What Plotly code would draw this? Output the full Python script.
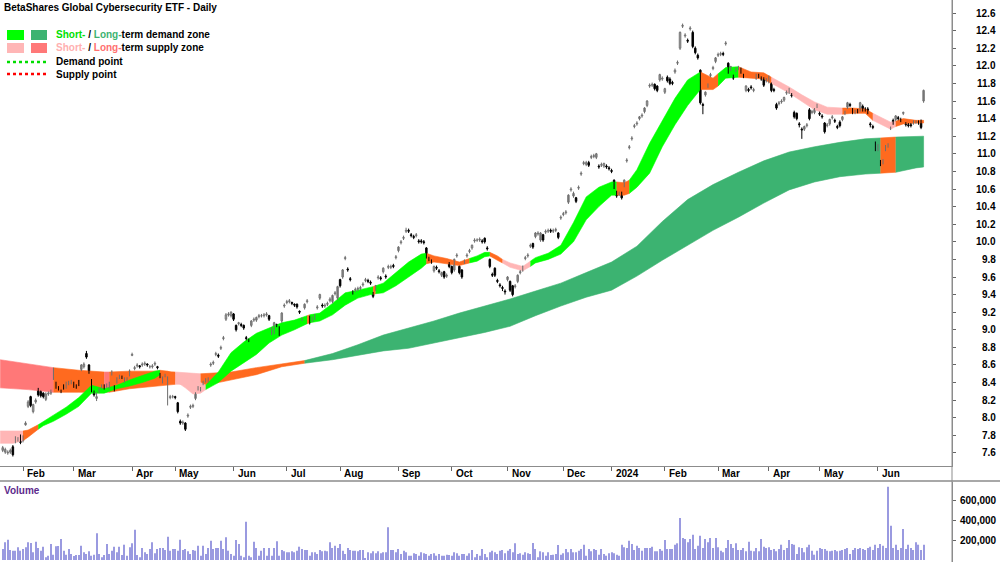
import plotly.graph_objects as go

# ---------------- data ----------------
open_ = [
7.63,7.61,7.60,7.61,7.67,7.73,7.75,7.80,7.74,7.92,
8.13,8.24,8.07,8.18,8.33,8.30,8.28,8.21,8.27,8.28,
8.45,8.40,8.34,8.31,8.37,8.35,8.39,8.40,8.40,8.36,
8.42,8.55,8.58,8.73,8.60,8.43,8.30,8.22,8.30,8.35,
8.37,8.36,8.35,8.50,8.36,8.41,8.46,8.47,8.42,8.44,
8.49,8.71,8.56,8.59,8.59,8.60,8.61,8.61,8.58,8.58,
8.61,8.58,8.50,8.41,8.48,8.40,8.23,8.24,8.24,8.17,
7.96,7.94,7.94,8.02,8.12,8.13,8.22,8.33,8.32,8.39,
8.42,8.42,8.60,8.62,8.72,8.71,8.79,8.90,9.12,9.17,
9.16,9.18,9.05,9.07,9.06,9.05,8.91,8.89,9.05,9.11,
9.11,9.15,9.16,9.16,9.17,9.16,8.96,8.97,9.06,9.03,
9.10,9.27,9.31,9.32,9.31,9.29,9.29,9.21,9.12,9.25,
9.32,9.15,9.11,9.13,9.25,9.36,9.28,9.27,9.29,9.33,
9.32,9.41,9.36,9.57,9.60,9.81,9.69,9.58,9.43,9.45,
9.46,9.47,9.51,9.56,9.56,9.54,9.42,9.46,9.59,9.59,
9.66,9.61,9.71,9.71,9.73,9.82,9.90,9.99,10.04,10.12,
10.13,10.08,10.06,10.07,10.01,10.01,10.00,9.93,9.81,9.78,
9.67,9.71,9.67,9.62,9.66,9.61,9.75,9.72,9.68,9.84,
9.72,9.68,9.77,9.84,9.89,9.93,10.01,10.02,10.02,10.01,
10.04,9.93,9.80,9.63,9.70,9.56,9.51,9.48,9.44,9.57,
9.55,9.50,9.49,9.55,9.65,9.68,9.81,9.84,9.95,9.98,
10.06,10.09,10.02,10.08,10.11,10.12,10.13,10.12,10.13,10.10,
10.27,10.31,10.33,10.45,10.59,10.52,10.50,10.61,10.77,10.89,
10.88,10.90,10.96,10.97,10.96,10.86,10.87,10.86,10.86,10.84,
10.81,10.70,10.57,10.54,10.55,10.64,10.92,11.07,11.17,11.31,
11.34,11.40,11.43,11.48,11.55,11.77,11.78,11.79,11.77,11.84,
11.85,11.70,11.87,11.85,11.81,11.93,12.03,12.20,12.45,12.34,
12.29,12.42,12.38,12.20,12.12,11.95,11.56,11.67,11.77,11.89,
11.97,12.05,12.12,12.13,12.14,12.25,12.03,11.96,11.89,11.95,
11.97,11.97,11.89,11.72,11.73,11.76,11.72,11.86,11.89,11.86,
11.85,11.83,11.82,11.80,11.73,11.56,11.57,11.59,11.61,11.69,
11.70,11.67,11.47,11.46,11.34,11.28,11.28,11.32,11.50,11.47,
11.47,11.54,11.46,11.43,11.35,11.32,11.34,11.41,11.38,11.31,
11.36,11.39,11.46,11.53,11.56,11.50,11.47,11.49,11.50,11.54,
11.51,11.51,11.34,11.31,11.12,11.05,10.91,10.90,11.05,11.09,
11.29,11.38,11.39,11.41,11.39,11.46,11.34,11.33,11.33,11.35,
11.36,11.36,11.37,11.60]

high = [
7.68,7.66,7.63,7.65,7.69,7.79,7.78,7.81,7.80,7.96,
8.20,8.25,8.16,8.22,8.34,8.31,8.29,8.29,8.30,8.32,
8.57,8.41,8.36,8.32,8.38,8.41,8.42,8.43,8.41,8.38,
8.43,8.61,8.63,8.76,8.61,8.44,8.31,8.29,8.34,8.38,
8.38,8.39,8.41,8.54,8.37,8.46,8.49,8.48,8.46,8.46,
8.55,8.74,8.59,8.62,8.60,8.63,8.64,8.62,8.60,8.61,
8.64,8.59,8.51,8.47,8.50,8.47,8.26,8.26,8.25,8.18,
7.98,7.97,7.95,8.05,8.15,8.16,8.29,8.36,8.35,8.42,
8.45,8.46,8.63,8.65,8.75,8.73,8.82,8.93,9.19,9.20,
9.21,9.19,9.06,9.09,9.08,9.06,8.93,8.90,9.11,9.14,
9.15,9.18,9.18,9.19,9.20,9.17,9.03,9.09,9.07,9.04,
9.20,9.30,9.34,9.35,9.32,9.30,9.30,9.22,9.14,9.30,
9.35,9.16,9.15,9.18,9.28,9.41,9.30,9.30,9.32,9.37,
9.40,9.44,9.50,9.58,9.69,9.84,9.71,9.60,9.45,9.48,
9.49,9.50,9.54,9.59,9.58,9.56,9.43,9.51,9.62,9.61,
9.71,9.63,9.74,9.74,9.75,9.85,9.95,10.02,10.07,10.16,
10.15,10.10,10.08,10.10,10.03,10.03,10.02,9.94,9.83,9.80,
9.73,9.73,9.69,9.66,9.67,9.64,9.77,9.73,9.81,9.87,
9.73,9.69,9.80,9.87,9.92,9.97,10.04,10.04,10.05,10.03,
10.05,9.95,9.81,9.65,9.71,9.58,9.53,9.50,9.46,9.61,
9.56,9.51,9.52,9.63,9.68,9.73,9.84,9.87,9.98,9.99,
10.11,10.12,10.11,10.09,10.14,10.15,10.15,10.15,10.16,10.11,
10.30,10.34,10.36,10.54,10.62,10.57,10.51,10.64,10.80,10.92,
10.92,10.92,10.99,11.00,11.01,10.88,10.90,10.90,10.88,10.86,
10.83,10.71,10.58,10.57,10.57,10.71,10.95,11.10,11.20,11.34,
11.37,11.43,11.46,11.53,11.61,11.80,11.81,11.80,11.78,11.91,
11.88,11.75,11.89,11.87,11.83,11.97,12.06,12.39,12.48,12.37,
12.31,12.45,12.40,12.22,12.14,11.96,11.58,11.71,11.80,11.92,
12.00,12.10,12.15,12.16,12.16,12.28,12.04,12.00,11.90,11.98,
12.00,11.98,11.91,11.78,11.75,11.78,11.75,11.91,11.91,11.88,
11.87,11.86,11.89,11.81,11.75,11.58,11.60,11.62,11.65,11.72,
11.75,11.69,11.49,11.47,11.36,11.30,11.32,11.35,11.52,11.50,
11.52,11.57,11.48,11.45,11.36,11.35,11.40,11.44,11.40,11.33,
11.38,11.43,11.49,11.59,11.58,11.52,11.50,11.51,11.59,11.56,
11.53,11.53,11.36,11.33,11.14,11.11,10.93,10.94,11.10,11.12,
11.31,11.40,11.44,11.43,11.41,11.48,11.36,11.35,11.35,11.38,
11.38,11.38,11.39,11.73]

low = [
7.61,7.59,7.58,7.59,7.56,7.71,7.73,7.70,7.72,7.91,
8.11,8.12,8.05,8.16,8.24,8.23,8.22,8.19,8.25,8.26,
8.43,8.33,8.31,8.28,8.32,8.33,8.37,8.38,8.34,8.33,
8.36,8.53,8.56,8.67,8.50,8.29,8.24,8.19,8.28,8.33,
8.32,8.34,8.33,8.48,8.30,8.39,8.44,8.44,8.40,8.42,
8.47,8.70,8.54,8.57,8.56,8.58,8.59,8.58,8.56,8.56,
8.59,8.55,8.45,8.39,8.46,8.14,8.21,8.22,8.21,8.05,
7.92,7.92,7.85,8.00,8.10,8.11,8.20,8.31,8.30,8.37,
8.40,8.40,8.58,8.60,8.70,8.68,8.77,8.88,9.10,9.15,
9.14,9.10,8.98,9.05,9.03,9.00,8.88,8.86,9.03,9.09,
9.09,9.13,9.14,9.14,9.15,9.10,8.94,8.95,9.03,8.93,
9.08,9.25,9.29,9.30,9.28,9.26,9.24,9.18,9.10,9.23,
9.30,9.06,9.09,9.11,9.23,9.34,9.25,9.25,9.27,9.31,
9.30,9.39,9.34,9.48,9.58,9.79,9.66,9.55,9.40,9.43,
9.44,9.45,9.49,9.54,9.53,9.51,9.36,9.44,9.57,9.56,
9.64,9.58,9.69,9.69,9.70,9.80,9.88,9.97,10.02,10.10,
10.10,10.05,10.03,10.05,9.98,9.98,9.97,9.81,9.78,9.75,
9.65,9.68,9.64,9.60,9.58,9.59,9.70,9.63,9.66,9.82,
9.63,9.58,9.75,9.82,9.87,9.91,9.99,10.00,10.00,9.98,
9.98,9.90,9.70,9.60,9.60,9.53,9.48,9.44,9.40,9.55,
9.43,9.38,9.47,9.53,9.63,9.66,9.79,9.82,9.93,9.92,
10.04,10.07,10.00,10.00,10.09,10.10,10.10,10.10,10.11,10.03,
10.25,10.29,10.31,10.43,10.57,10.50,10.44,10.59,10.75,10.87,
10.86,10.85,10.94,10.95,10.94,10.83,10.85,10.84,10.83,10.81,
10.78,10.60,10.50,10.52,10.48,10.62,10.90,11.05,11.15,11.29,
11.32,11.38,11.41,11.46,11.53,11.75,11.76,11.72,11.70,11.82,
11.83,11.68,11.81,11.78,11.78,11.91,12.01,12.18,12.43,12.32,
12.26,12.40,12.20,12.13,12.07,11.56,11.45,11.65,11.75,11.87,
11.95,12.03,12.10,12.11,12.11,12.23,11.91,11.94,11.84,11.93,
11.95,11.91,11.86,11.70,11.70,11.73,11.70,11.84,11.86,11.83,
11.76,11.81,11.80,11.70,11.70,11.50,11.55,11.57,11.59,11.67,
11.68,11.64,11.40,11.38,11.30,11.17,11.26,11.30,11.38,11.45,
11.45,11.52,11.43,11.40,11.23,11.30,11.32,11.39,11.35,11.28,
11.30,11.37,11.44,11.51,11.53,11.45,11.45,11.46,11.48,11.48,
11.48,11.45,11.30,11.28,11.03,11.03,10.86,10.88,11.03,11.07,
11.27,11.33,11.37,11.38,11.36,11.44,11.31,11.30,11.30,11.33,
11.34,11.33,11.28,11.58]

close = [
7.66,7.64,7.61,7.63,7.58,7.77,7.76,7.72,7.78,7.94,
8.18,8.14,8.15,8.20,8.26,8.25,8.24,8.27,8.28,8.30,
8.56,8.35,8.33,8.30,8.34,8.40,8.40,8.41,8.36,8.35,
8.38,8.60,8.61,8.69,8.52,8.31,8.26,8.24,8.33,8.36,
8.34,8.38,8.40,8.52,8.32,8.45,8.47,8.46,8.45,8.44,
8.53,8.72,8.57,8.60,8.58,8.61,8.62,8.60,8.58,8.59,
8.62,8.57,8.47,8.46,8.48,8.46,8.24,8.24,8.23,8.07,
7.94,7.95,7.87,8.03,8.13,8.14,8.28,8.34,8.33,8.40,
8.43,8.45,8.61,8.63,8.73,8.70,8.80,8.91,9.17,9.18,
9.20,9.12,9.00,9.08,9.05,9.02,8.90,8.88,9.10,9.12,
9.14,9.16,9.16,9.17,9.18,9.12,9.02,9.08,9.05,8.95,
9.19,9.28,9.32,9.33,9.30,9.28,9.26,9.20,9.12,9.29,
9.33,9.08,9.14,9.17,9.26,9.40,9.27,9.28,9.30,9.35,
9.39,9.42,9.49,9.50,9.68,9.82,9.68,9.57,9.42,9.46,
9.47,9.48,9.52,9.57,9.55,9.53,9.38,9.50,9.60,9.58,
9.70,9.60,9.72,9.72,9.72,9.83,9.94,10.00,10.05,10.13,
10.12,10.07,10.05,10.08,10.00,10.00,9.99,9.83,9.80,9.77,
9.72,9.70,9.66,9.65,9.60,9.62,9.72,9.65,9.80,9.85,
9.65,9.60,9.78,9.85,9.90,9.96,10.02,10.02,10.03,10.00,
10.00,9.92,9.72,9.62,9.62,9.55,9.50,9.47,9.43,9.60,
9.45,9.40,9.50,9.62,9.66,9.72,9.82,9.85,9.96,9.94,
10.10,10.10,10.10,10.02,10.12,10.13,10.12,10.13,10.14,10.05,
10.28,10.32,10.34,10.53,10.60,10.55,10.46,10.62,10.78,10.90,
10.90,10.87,10.97,10.98,11.00,10.85,10.88,10.89,10.85,10.83,
10.80,10.62,10.52,10.55,10.50,10.70,10.93,11.08,11.18,11.32,
11.35,11.42,11.44,11.52,11.60,11.78,11.79,11.74,11.72,11.90,
11.86,11.74,11.83,11.80,11.80,11.95,12.04,12.38,12.46,12.35,
12.28,12.43,12.22,12.15,12.09,11.58,11.55,11.70,11.78,11.90,
11.98,12.09,12.13,12.14,12.13,12.26,11.93,11.99,11.86,11.96,
11.98,11.93,11.88,11.77,11.72,11.75,11.73,11.90,11.88,11.85,
11.78,11.84,11.88,11.72,11.72,11.52,11.58,11.60,11.64,11.70,
11.74,11.66,11.42,11.40,11.33,11.27,11.31,11.33,11.40,11.48,
11.51,11.55,11.45,11.42,11.25,11.33,11.39,11.42,11.37,11.30,
11.32,11.42,11.47,11.58,11.55,11.47,11.48,11.48,11.58,11.50,
11.50,11.47,11.33,11.30,11.05,11.10,10.88,10.93,11.09,11.10,
11.30,11.35,11.43,11.40,11.38,11.47,11.33,11.32,11.32,11.36,
11.37,11.35,11.30,11.72]

# volume in thousands of units
volume_k = [
110,177,203,100,93,93,127,93,110,127,
177,170,77,183,120,93,133,27,43,160,
53,137,140,210,93,53,110,60,40,50,
50,143,77,60,87,43,53,267,60,27,
50,160,60,93,133,77,133,50,153,43,
127,167,303,50,27,120,77,60,110,177,
67,110,120,120,100,233,93,110,110,93,
203,100,110,87,60,100,93,143,43,143,
60,120,193,110,120,120,193,110,227,93,
60,43,200,160,43,27,383,43,27,183,
120,43,93,120,43,120,43,120,187,43,
100,87,77,77,87,77,93,133,110,
100,100,43,77,77,60,100,87,93,87,
177,120,143,120,160,93,60,120,100,
93,93,87,100,100,20,77,67,87,67,
87,67,77,77,327,100,100,77,110,60,
93,77,43,43,67,60,43,77,67,60,
43,60,67,43,60,43,43,53,50,43,
77,67,43,60,60,43,67,100,27,60,
43,110,60,27,77,93,77,60,93,
100,67,93,110,77,167,60,67,53,
77,67,60,170,110,27,87,77,43,77,
50,53,60,150,53,67,110,77,110,
77,77,93,110,153,43,110,87,110,100,
53,110,60,43,67,77,67,53,43,153,
127,120,193,160,100,143,120,93,120,120,
120,133,87,87,110,93,200,110,110,110,
153,167,420,220,210,177,210,253,110,143,
243,120,210,177,220,120,220,127,93,77,
120,200,160,120,167,100,100,120,87,183,
93,87,120,87,210,133,120,127,100,110,
87,110,153,100,120,200,160,153,60,
127,120,77,127,153,93,53,93,120,110,
110,93,87,93,100,87,93,100,110,120,
60,100,120,110,120,110,100,120,133,100,
153,120,160,143,120,733,343,120,153,100,
120,310,110,153,120,100,177,153,100,153]

bar_idx = list(range(len(close)))

# month boundaries (trading-day index of first bar of each month) and labels
month_idx = [8, 28, 51, 68, 91, 112, 133, 156, 177, 199, 221, 240, 261, 282, 302, 322, 345]
month_lbl = ["Feb", "Mar", "Apr", "May", "Jun", "Jul", "Aug", "Sep", "Oct", "Nov", "Dec",
             "2024", "Feb", "Mar", "Apr", "May", "Jun"]

# short-term zone band (upper / lower edge) sampled at bar indices
st_idx = [-1,4,8,10,14,16,20,25,30,35,40,45,50,55,60,62,65,68,72,75,78,80,85,90,95,100,105,110,
          115,120,121,125,130,135,140,145,146,147,150,155,160,165,167,170,175,180,184,187,190,192,
          195,197,200,205,208,210,215,220,225,230,235,240,242,245,247,250,255,260,265,270,275,280,
          282,285,290,295,300,303,305,310,315,320,325,331,335,340,343,347,350,352,355,360,363]
st_hi = [7.85,7.85,7.85,7.86,7.92,7.96,8.03,8.12,8.23,8.37,8.33,8.37,8.43,8.48,8.53,8.54,8.53,8.50,
         8.45,8.42,8.40,8.37,8.52,8.74,8.86,8.96,9.02,9.08,9.11,9.16,9.17,9.19,9.30,9.42,9.45,9.49,
         9.49,9.50,9.53,9.65,9.77,9.86,9.87,9.84,9.81,9.77,9.81,9.84,9.88,9.88,9.84,9.80,9.76,9.72,
         9.78,9.82,9.87,9.96,10.22,10.51,10.62,10.68,10.68,10.67,10.70,10.82,11.12,11.38,11.63,
         11.84,11.93,11.86,11.91,11.98,11.99,11.93,11.92,11.87,11.84,11.76,11.67,11.59,11.53,11.52,
         11.52,11.51,11.46,11.40,11.36,11.37,11.40,11.38,11.38]
st_lo = [7.71,7.71,7.74,7.78,7.87,7.91,7.96,8.04,8.13,8.28,8.28,8.33,8.36,8.40,8.45,8.49,8.46,8.42,
         8.34,8.27,8.28,8.32,8.40,8.53,8.62,8.72,8.85,8.94,9.00,9.07,9.08,9.10,9.17,9.28,9.36,9.40,
         9.40,9.41,9.42,9.50,9.60,9.70,9.75,9.77,9.75,9.73,9.76,9.78,9.83,9.84,9.79,9.76,9.71,9.67,
         9.72,9.76,9.80,9.86,10.00,10.25,10.40,10.53,10.53,10.53,10.55,10.62,10.78,11.08,11.33,
         11.55,11.73,11.73,11.77,11.86,11.87,11.86,11.85,11.80,11.77,11.69,11.59,11.50,11.45,11.45,
         11.46,11.46,11.38,11.32,11.28,11.31,11.34,11.35,11.35]
# (from bar, to bar, zone kind)
st_seg = [(-1,8,"ss"),(8,14,"ov"),(14,62,"sd"),(62,68,"ov"),(68,80,"ss"),(80,120,"sd"),(120,121,"ov"),
          (121,146,"sd"),(146,147,"ov"),(147,167,"sd"),(167,184,"ov"),(184,192,"sd"),(192,197,"ov"),
          (197,208,"ss"),(208,242,"sd"),(242,247,"ov"),(247,275,"sd"),(275,282,"ov"),(282,290,"sd"),
          (290,303,"ov"),(303,331,"ss"),(331,343,"ov"),(343,352,"ss"),(352,363,"ov")]

# long-term zone band
lt_idx = [-1,10,20,30,40,42,50,60,68,73,78,85,90,100,110,119,130,140,150,160,170,180,190,200,210,
          220,230,240,250,260,270,280,290,300,310,320,330,340,346,352,360,363]
lt_hi = [8.66,8.61,8.57,8.54,8.52,8.52,8.53,8.53,8.52,8.51,8.50,8.51,8.52,8.57,8.61,8.65,8.73,8.83,
         8.94,9.02,9.10,9.19,9.27,9.35,9.44,9.53,9.65,9.77,9.95,10.23,10.48,10.65,10.79,10.92,11.02,
         11.08,11.13,11.17,11.18,11.19,11.20,11.20]
lt_lo = [8.34,8.32,8.29,8.29,8.29,8.29,8.33,8.36,8.38,8.38,8.37,8.40,8.43,8.49,8.58,8.62,8.66,8.71,
         8.76,8.79,8.85,8.91,8.97,9.04,9.16,9.27,9.37,9.45,9.61,9.79,9.96,10.13,10.28,10.44,10.59,
         10.68,10.74,10.77,10.78,10.79,10.84,10.85]
lt_seg = [(-1,20,"ls"),(20,40,"ov"),(40,42,"ls"),(42,68,"ov"),(68,78,"ss"),(78,119,"ov"),
          (119,346,"ld"),(346,352,"ov"),(352,363,"ld")]

price_ticks = [7.6,7.8,8.0,8.2,8.4,8.6,8.8,9.0,9.2,9.4,9.6,9.8,10.0,10.2,10.4,10.6,10.8,11.0,
               11.2,11.4,11.6,11.8,12.0,12.2,12.4,12.6]
vol_ticks_k = [200, 400, 600]

# ---------------- styling ----------------
ZONE = {"sd": "#00FF00", "ld": "#3CB371", "ss": "#FFB6B6", "ls": "#FF7878", "ov": "#FF6A1F"}
FONT = "Arial, 'Liberation Sans', sans-serif"
UP_LINE = "#6e6e6e"

fig = go.Figure()


def band(idx, hi, lo, a, b, color):
    sel = [k for k, v in enumerate(idx) if a <= v <= b]
    xs = [idx[k] for k in sel] + [idx[k] for k in reversed(sel)]
    ys = [hi[k] for k in sel] + [lo[k] for k in reversed(sel)]
    return go.Scatter(x=xs, y=ys, mode="lines", fill="toself", fillcolor=color,
                      line=dict(color=color, width=0.6), hoverinfo="skip", showlegend=False)


for a, b, kind in lt_seg:
    fig.add_trace(band(lt_idx, lt_hi, lt_lo, a, b, ZONE[kind]))
for a, b, kind in st_seg:
    fig.add_trace(band(st_idx, st_hi, st_lo, a, b, ZONE[kind]))

# candles: wicks (scatter) + bodies (bars with a base)
up = [i for i in bar_idx if close[i] >= open_[i]]
dn = [i for i in bar_idx if close[i] < open_[i]]


def wick_xy(sel):
    xs, ys = [], []
    for i in sel:
        xs += [i, i, None]
        ys += [low[i], high[i], None]
    return xs, ys


for sel, col in ((up, UP_LINE), (dn, "#000000")):
    wx, wy = wick_xy(sel)
    fig.add_trace(go.Scatter(x=wx, y=wy, mode="lines", line=dict(color=col, width=1),
                             hoverinfo="skip", showlegend=False, xaxis="x", yaxis="y"))

fig.add_trace(go.Bar(x=up, base=[open_[i] for i in up], y=[close[i] - open_[i] for i in up],
                     width=0.62, marker=dict(color="#ffffff", line=dict(color=UP_LINE, width=0.9)),
                     hoverinfo="skip", showlegend=False, xaxis="x", yaxis="y"))
fig.add_trace(go.Bar(x=dn, base=[close[i] for i in dn], y=[open_[i] - close[i] for i in dn],
                     width=0.62, marker=dict(color="#000000", line=dict(color="#000000", width=0.9)),
                     hoverinfo="skip", showlegend=False, xaxis="x", yaxis="y"))

fig.add_trace(go.Bar(x=bar_idx, y=volume_k, width=0.42, marker=dict(color="#9a9ae0", line=dict(width=0)),
                     showlegend=False, hoverinfo="skip", xaxis="x2", yaxis="y2"))

XR = [-1.07, 374.2]

fig.update_layout(
    width=1000, height=562,
    margin=dict(l=0, r=48, t=0, b=0, pad=0, autoexpand=False),
    paper_bgcolor="white", plot_bgcolor="white",
    font=dict(family=FONT, size=10, color="black"),
    showlegend=False, barmode="overlay",
    xaxis=dict(domain=[0, 1], range=XR, anchor="y", showgrid=False, zeroline=False,
               showline=True, linecolor="#8c8c8c", linewidth=1, automargin=False,
               ticks="outside", ticklen=4, tickcolor="#666666", tickvals=month_idx,
               showticklabels=False, fixedrange=True),
    yaxis=dict(domain=[1 - 466 / 562, 1], range=[7.452, 12.748], side="right", anchor="x",
               showgrid=False, zeroline=False, showline=True, linecolor="#8c8c8c", linewidth=1,
               ticks="outside", ticklen=3, tickcolor="#666666", automargin=False,
               tickvals=price_ticks, showticklabels=False, fixedrange=True),
    xaxis2=dict(domain=[0, 1], range=XR, anchor="y2", showgrid=False, zeroline=False,
                showline=False, showticklabels=False, ticks="", fixedrange=True, automargin=False),
    yaxis2=dict(domain=[0, 81 / 562], range=[-20, 790], side="right", anchor="x2",
                showgrid=False, zeroline=False, showline=True, linecolor="#8c8c8c", linewidth=1,
                ticks="outside", ticklen=3, tickcolor="#666666", automargin=False,
                tickvals=vol_ticks_k, showticklabels=False, fixedrange=True),
)

W = 952.0
H = 562.0
def px(x):
    return x / W
def py(y):
    return 1 - y / H

# right-hand axis labels (right aligned, as in the reference)
for v in price_ticks:
    fig.add_annotation(x=px(998), y=v, xref="paper", yref="y", text=f"<b>{v:.1f}</b>",
                       showarrow=False, xanchor="right", yanchor="middle",
                       font=dict(family=FONT, size=10, color="black"))
for v in vol_ticks_k:
    fig.add_annotation(x=px(999), y=v, xref="paper", yref="y2", text=f"<b>{v:,},000</b>",
                       showarrow=False, xanchor="right", yanchor="middle",
                       font=dict(family=FONT, size=10, color="black"))

# month labels (left-aligned after each month tick)
for mi, ml in zip(month_idx, month_lbl):
    fig.add_annotation(x=mi, y=1 - 474 / 562, xref="x", yref="paper", text=f"<b>{ml}</b>",
                       showarrow=False, xanchor="left", yanchor="middle", xshift=2,
                       font=dict(family=FONT, size=10, color="black"))

# panel separators
fig.add_shape(type="line", xref="paper", yref="paper", x0=0, x1=1.06, y0=py(481), y1=py(481),
              line=dict(color="#a8a8a8", width=2))
fig.add_shape(type="line", xref="paper", yref="paper", x0=1, x1=1, y0=0, y1=1,
              line=dict(color="#8c8c8c", width=1))

# title & custom legend
fig.add_annotation(x=px(2), y=py(7), xref="paper", yref="paper", xanchor="left", yanchor="middle",
                   showarrow=False, text="<b>BetaShares Global Cybersecurity ETF - Daily</b>",
                   font=dict(family=FONT, size=10, color="black"))
fig.add_annotation(x=px(2), y=py(490), xref="paper", yref="paper", xanchor="left", yanchor="middle",
                   showarrow=False, text="<b>Volume</b>", font=dict(family=FONT, size=10, color="#5c2a8c"))

sw = [(7, 24, 30, 40, ZONE["sd"]), (31, 47, 30, 40, ZONE["ld"]),
      (7, 24, 43, 53, ZONE["ss"]), (31, 47, 43, 53, ZONE["ls"])]
for x0, x1, y0, y1, c in sw:
    fig.add_shape(type="rect", xref="paper", yref="paper", x0=px(x0), x1=px(x1), y0=py(y1), y1=py(y0),
                  fillcolor=c, line=dict(width=0))
fig.add_shape(type="line", xref="paper", yref="paper", x0=px(7), x1=px(47), y0=py(62), y1=py(62),
              line=dict(color="#00DD00", width=2.5, dash="dot"))
fig.add_shape(type="line", xref="paper", yref="paper", x0=px(7), x1=px(47), y0=py(74), y1=py(74),
              line=dict(color="#FF0000", width=2.5, dash="dot"))

leg_text = [
    (34.5, "<b><span style='color:#00E000'>Short-</span> / <span style='color:#3CB371'>Long-</span>term demand zone</b>"),
    (48, "<b><span style='color:#FFB0B0'>Short-</span> / <span style='color:#FF7070'>Long-</span>term supply zone</b>"),
    (62, "<b>Demand point</b>"),
    (74.5, "<b>Supply point</b>"),
]
for yy, t in leg_text:
    fig.add_annotation(x=px(54), y=py(yy), xref="paper", yref="paper", xanchor="left", yanchor="middle",
                       showarrow=False, text=t, font=dict(family=FONT, size=10, color="black"))

fig.write_html("out.html", config={"displayModeBar": False})
